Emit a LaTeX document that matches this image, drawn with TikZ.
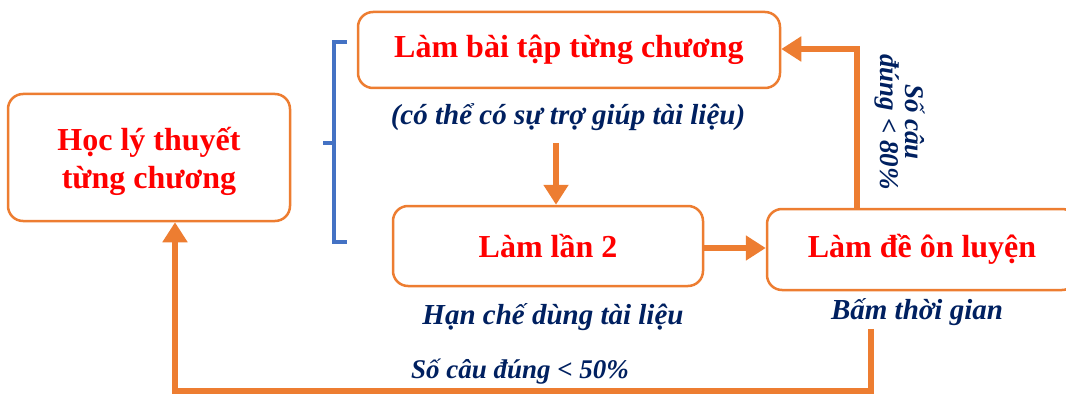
\documentclass[tikz,border=0pt]{standalone}
\usepackage{fontspec}
\setmainfont{Liberation Serif}
\usetikzlibrary{arrows.meta}
\definecolor{rd}{HTML}{FF0000}
\definecolor{nv}{HTML}{002060}
\definecolor{og}{HTML}{ED7D31}
\definecolor{bl}{HTML}{4472C4}
\tikzset{
  box/.style={draw=og, line width=2.5pt, rounded corners=15pt, fill=white, align=center,
    text=rd, font=\fontsize{32}{38}\selectfont\bfseries, inner sep=0pt},
  note/.style={text=nv, font=\fontsize{29}{27}\selectfont\bfseries\itshape, align=center, inner sep=0pt},
  arr/.style={draw=og, line width=6pt, -{Triangle[width=24pt,length=20pt]}},
}
\begin{document}
\begin{tikzpicture}[x=1pt,y=-1pt]
\clip (0,0) rectangle (1066,396);
\node[box, minimum width=282pt, minimum height=127pt] (hoc) at (149,157.5) {\\[-6pt]Học lý thuyết\\từng chương};
\node[box, minimum width=422pt, minimum height=76pt] (bai) at (569,50) {Làm bài tập từng chương};
\node[box, minimum width=310pt, minimum height=80pt] (lan2) at (548,246) {Làm lần 2};
\node[box, minimum width=310pt, minimum height=81pt] (de) at (922,249.5) {Làm đề ôn luyện};
\node[note] (par) at (568,117) {(có thể có sự trợ giúp tài liệu)};
\node[note] (han) at (553,317) {Hạn chế dùng tài liệu};
\node[note] (bam) at (917,312) {Bấm thời gian};
\node[note, font=\fontsize{27}{27}\selectfont\bfseries\itshape] (s50) at (520,372) {Số câu đúng < 50\%};
\node[note, rotate=-90, font=\fontsize{27}{25}\selectfont\bfseries\itshape] (s80) at (900,122) {Số câu\\đúng < 80\%};
% bracket
\draw[bl, line width=4pt] (347,42) -- (334,42) -- (334,242) -- (347,242);
\draw[bl, line width=4pt] (334,143) -- (323,143);
% arrows
\draw[arr] ([xshift=-12pt,yshift=-12pt]par.south) -- ([xshift=8pt]lan2.north);
\draw[arr] ([yshift=-2pt]lan2.east) -- ([yshift=-2pt]lan2.east -| de.west);
\draw[arr] ([xshift=91pt]de.north west) |- ([yshift=1pt]bai.east);
\draw[arr] ([xshift=-46pt,yshift=-3pt]bam.south) -- ++(0,62) -| ([xshift=26pt]hoc.south);
\end{tikzpicture}
\end{document}
